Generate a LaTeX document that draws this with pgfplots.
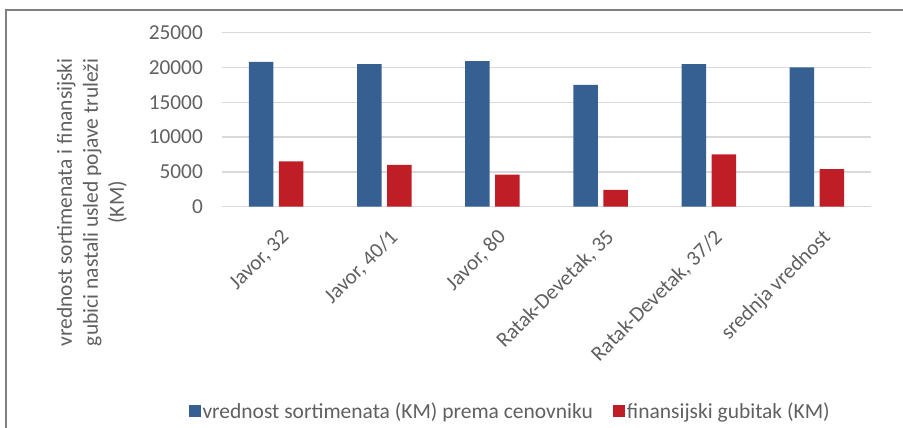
\documentclass[border=0pt]{standalone}
\usepackage{fontspec}
\setmainfont{Carlito}
\usepackage{pgfplots}
\usepackage{pgfplotstable}
\pgfplotsset{compat=1.18}
\definecolor{barblue}{RGB}{55,96,146}
\definecolor{barred}{RGB}{192,30,39}
\definecolor{txtgray}{RGB}{96,96,96}
\definecolor{gridgray}{RGB}{217,217,217}
\definecolor{framegray}{RGB}{128,128,128}

% x: category index; blue = vrednost sortimenata, red = finansijski gubitak
\pgfplotstableread{
x blue red
0 20800 6500
1 20500 6000
2 20900 4600
3 17500 2400
4 20500 7500
5 20000 5400
}\datatable

\begin{document}
\begin{tikzpicture}[x=1pt,y=1pt]
\path[use as bounding box] (0,0) rectangle (903,428);
\draw[framegray, line width=1.5pt] (6,0) -- (6,418) -- (903,418);
\begin{axis}[
  at={(222pt,221.3pt)}, anchor=south west,
  scale only axis, width=649pt, height=174pt,
  ybar=5.5pt, bar width=24.5pt,
  xmin=-0.5, xmax=5.5, ymin=0, ymax=25000,
  xtick=data,
  xticklabels={{Javor, 32},{Javor, 40/1},{Javor, 80},{Ratak-Devetak, 35},{Ratak-Devetak, 37/2},{srednja vrednost}},
  ytick={0,5000,10000,15000,20000,25000},
  ymajorgrids, major grid style={gridgray, line width=1.5pt},
  axis line style={draw=none}, major tick length=0pt,
  tick label style={font=\fontsize{21.3}{24}\selectfont, text=txtgray},
  /pgf/number format/assume math mode=true,
  scaled y ticks=false,
  yticklabel style={/pgf/number format/fixed, /pgf/number format/1000 sep={}, inner sep=0pt, xshift=-19pt},
  xticklabel style={xshift=4pt, yshift=-21pt, rotate=45, anchor=north east, inner sep=0pt},
  ylabel={vrednost sortimenata i finansijski\\gubici nastali usled pojave truleži\\(KM)},
  ylabel style={at={(axis description cs:-0.2003,0.025)}, anchor=center, align=center,
    font=\fontsize{21.5}{26}\selectfont, text=txtgray},
  legend columns=2,
  legend style={at={(0.444,-1.174)}, anchor=center, draw=none, inner sep=0pt,
    font=\fontsize{21.5}{24}\selectfont, text=txtgray,
    nodes={inner sep=2pt},
    /tikz/every even column/.append style={column sep=18pt}},
  legend image code/.code={\fill[#1] (0pt,-6pt) rectangle (12pt,6pt);},
]
\addplot[fill=barblue, draw=none] table[x=x, y=blue] {\datatable};
\addlegendentry{vrednost sortimenata (KM) prema cenovniku}
\addplot[fill=barred, draw=none] table[x=x, y=red] {\datatable};
\addlegendentry{finansijski gubitak (KM)}
\end{axis}
\end{tikzpicture}
\end{document}
